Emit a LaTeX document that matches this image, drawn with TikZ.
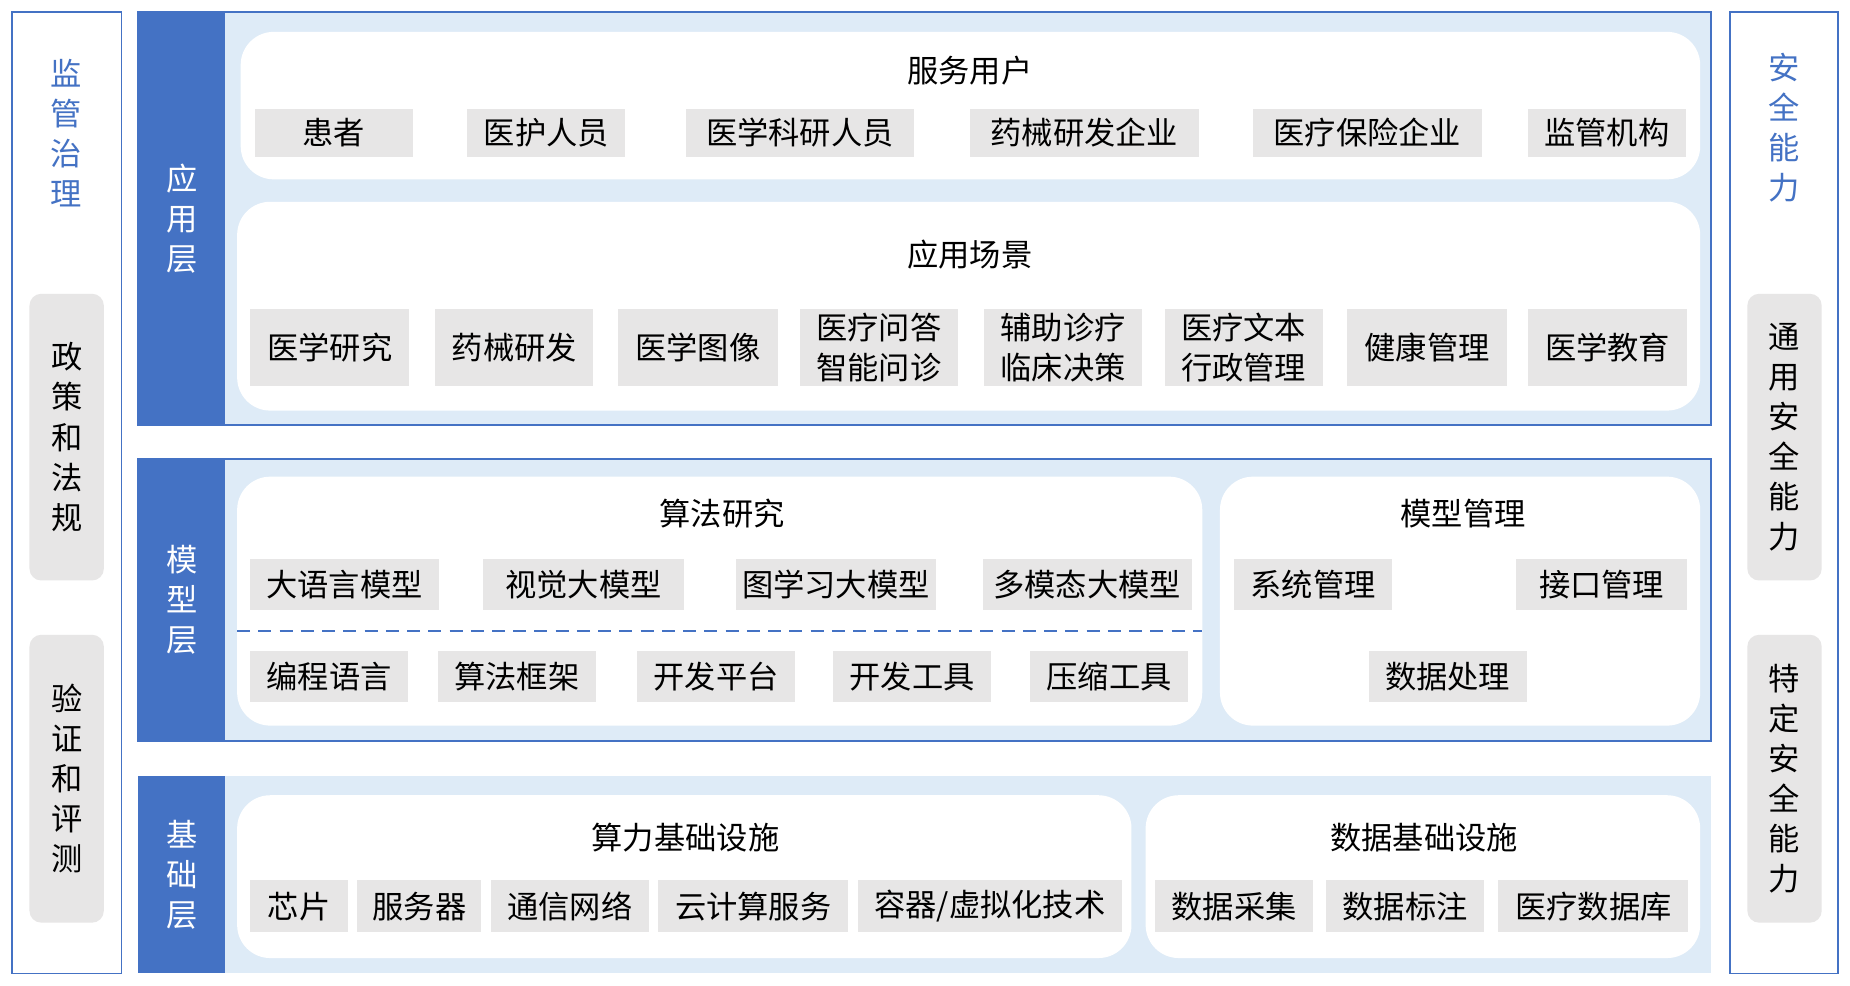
\documentclass[tikz,border=0pt]{standalone}
\usepackage{fontspec}
\setmainfont{Noto Sans CJK SC}
\definecolor{bandblue}{HTML}{4472C4}
\definecolor{lightblue}{HTML}{DEEBF7}
\definecolor{itemgray}{HTML}{E7E6E6}
\newcommand\bx[7]{% name, style, x1, y1, x2, y2, text
  \node[#2, minimum width={(#5-#3)*1pt}, minimum height={(#6-#4)*1pt}] (#1) at ({(#3+#5)/2},{(#4+#6)/2}) {#7};}
\tikzset{
  txt/.style={font=\fontsize{26.5}{34}\selectfont, align=center, inner sep=0pt},
  itembox/.style={txt, fill=itemgray},
  sidegray/.style={txt, fill=itemgray, rounded corners=10pt},
  sideframe/.style={inner sep=0pt, draw=bandblue, line width=1.5pt, fill=white},
  layerframe/.style={inner sep=0pt, draw=bandblue, line width=1.5pt, fill=lightblue},
  layerplain/.style={inner sep=0pt, fill=lightblue},
  band/.style={txt, fill=bandblue, text=white},
  panel/.style={inner sep=0pt, fill=white, rounded corners=28pt},
  title/.style={txt},
  bluetxt/.style={txt, text=bandblue},
  sep/.style={draw=bandblue, line width=1.8pt, dash pattern=on 11pt off 7pt}
}
\begin{document}
\begin{tikzpicture}[x=1pt,y=-1pt]
\fill[white] (0,0) rectangle (1568,835);
\useasboundingbox (0,0) rectangle (1568,835);

% side frames
\bx{leftframe}{sideframe}{10}{10}{103}{825}{}
\bx{rightframe}{sideframe}{1466}{10}{1558}{825}{}
\node[bluetxt] (jg) at (56,113) {监\\管\\治\\理};
\node[bluetxt] (aq) at (1512,108) {安\\全\\能\\力};
\bx{zc}{sidegray}{25}{249}{88}{492}{政\\策\\和\\法\\规}
\bx{yz}{sidegray}{25}{538}{88}{782}{验\\证\\和\\评\\测}
\bx{ty}{sidegray}{1481}{249}{1544}{492}{通\\用\\安\\全\\能\\力}
\bx{td}{sidegray}{1481}{538}{1544}{782}{特\\定\\安\\全\\能\\力}

% application layer
\bx{applayer}{layerframe}{117}{10}{1450}{360}{}
\bx{appband}{band}{117}{10}{191}{360}{应\\用\\层}
\bx{users}{panel}{204}{27}{1441}{152}{}
\node[title] (userst) at (822,60) {服务用户};
\bx{u1}{itembox}{216}{92}{350}{133}{患者}
\bx{u2}{itembox}{396}{92}{530}{133}{医护人员}
\bx{u3}{itembox}{581}{92}{775}{133}{医学科研人员}
\bx{u4}{itembox}{822}{92}{1016}{133}{药械研发企业}
\bx{u5}{itembox}{1062}{92}{1256}{133}{医疗保险企业}
\bx{u6}{itembox}{1295}{92}{1429}{133}{监管机构}
\bx{scenes}{panel}{201}{171}{1441}{348}{}
\node[title] (scenest) at (822,216) {应用场景};
\bx{s1}{itembox}{212}{262}{347}{327}{医学研究}
\bx{s2}{itembox}{369}{262}{503}{327}{药械研发}
\bx{s3}{itembox}{524}{262}{659}{327}{医学图像}
\bx{s4}{itembox}{678}{262}{812}{327}{医疗问答\\智能问诊}
\bx{s5}{itembox}{834}{262}{968}{327}{辅助诊疗\\临床决策}
\bx{s6}{itembox}{987}{262}{1121}{327}{医疗文本\\行政管理}
\bx{s7}{itembox}{1142}{262}{1277}{327}{健康管理}
\bx{s8}{itembox}{1295}{262}{1430}{327}{医学教育}

% model layer
\bx{modlayer}{layerframe}{117}{389}{1450}{628}{}
\bx{modband}{band}{117}{389}{191}{628}{模\\型\\层}
\bx{algo}{panel}{201}{404}{1019}{615}{}
\node[title] (algot) at (612,435) {算法研究};
\bx{a1}{itembox}{212}{474}{372}{517}{大语言模型}
\bx{a2}{itembox}{409}{474}{580}{517}{视觉大模型}
\bx{a3}{itembox}{624}{474}{793}{517}{图学习大模型}
\bx{a4}{itembox}{833}{474}{1010}{517}{多模态大模型}
\coordinate (dl) at (201,535);
\coordinate (dr) at (1019,535);
\draw[sep] (dl) -- (dr);
\bx{b1}{itembox}{212}{552}{346}{595}{编程语言}
\bx{b2}{itembox}{371}{552}{505}{595}{算法框架}
\bx{b3}{itembox}{540}{552}{674}{595}{开发平台}
\bx{b4}{itembox}{706}{552}{840}{595}{开发工具}
\bx{b5}{itembox}{873}{552}{1007}{595}{压缩工具}
\bx{mgmt}{panel}{1034}{404}{1441}{615}{}
\node[title] (mgmtt) at (1240,435) {模型管理};
\bx{m1}{itembox}{1046}{474}{1180}{517}{系统管理}
\bx{m2}{itembox}{1285}{474}{1430}{517}{接口管理}
\bx{m3}{itembox}{1160}{552}{1294}{595}{数据处理}

% base layer
\bx{baselayer}{layerplain}{117}{658}{1450}{825}{}
\bx{baseband}{band}{117}{658}{191}{825}{基\\础\\层}
\bx{compute}{panel}{201}{674}{959}{812}{}
\node[title] (computet) at (581,710) {算力基础设施};
\bx{c1}{itembox}{212}{746}{295}{790}{芯片}
\bx{c2}{itembox}{303}{746}{408}{790}{服务器}
\bx{c3}{itembox}{416}{746}{550}{790}{通信网络}
\bx{c4}{itembox}{558}{746}{719}{790}{云计算服务}
\bx{c5}{itembox}{727}{746}{951}{790}{容器/虚拟化技术}
\bx{data}{panel}{971}{674}{1441}{812}{}
\node[title] (datat) at (1207,710) {数据基础设施};
\bx{d1}{itembox}{979}{746}{1113}{790}{数据采集}
\bx{d2}{itembox}{1124}{746}{1258}{790}{数据标注}
\bx{d3}{itembox}{1270}{746}{1431}{790}{医疗数据库}
\end{tikzpicture}
\end{document}
